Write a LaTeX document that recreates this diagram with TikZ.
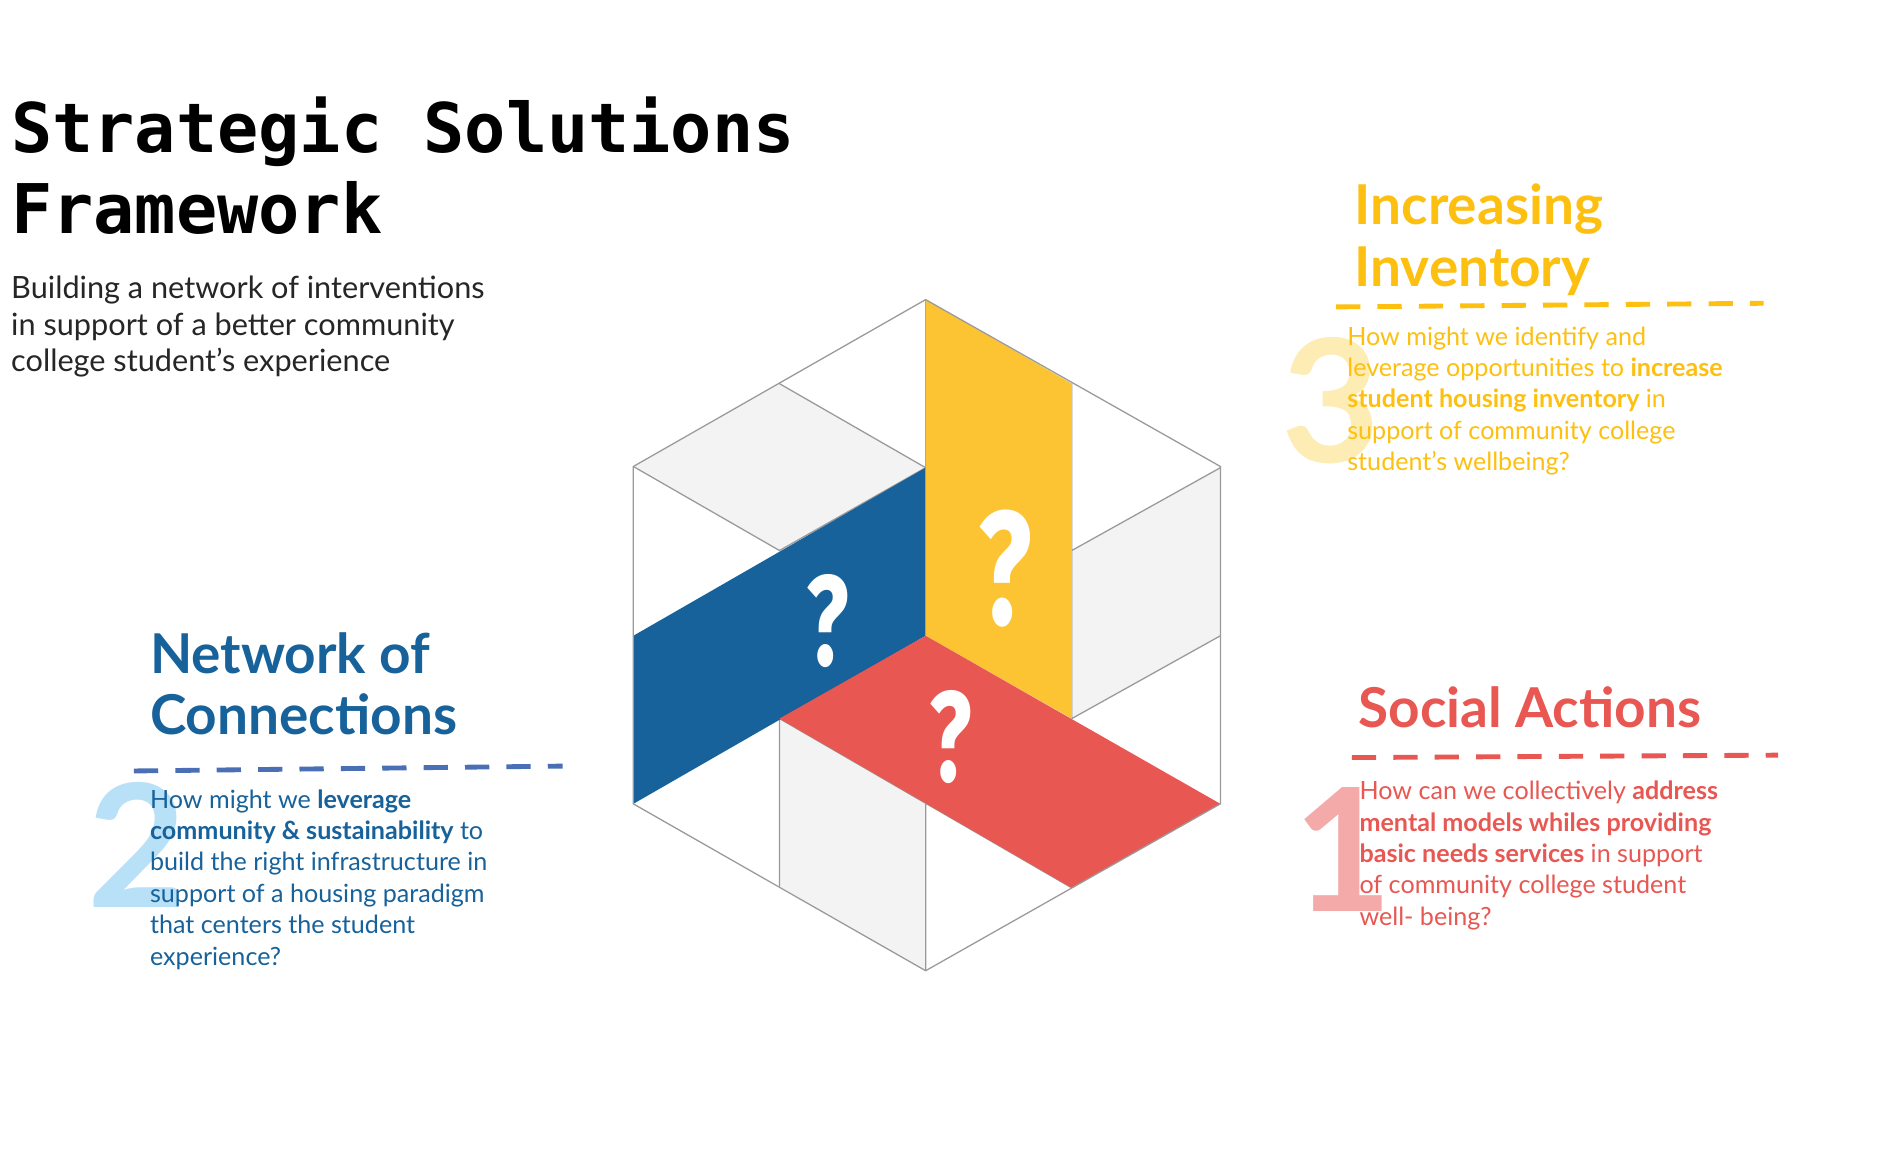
\documentclass[tikz,border=0pt]{standalone}
\usepackage{fontspec}
\setmainfont{Lato}
\newfontfamily\monob{DejaVu Sans Mono}
\newfontfamily\qfont{Fira Sans}
\definecolor{cyel}{HTML}{FCC433}
\definecolor{tyel}{HTML}{FDC010}
\definecolor{cblue}{HTML}{17629A}
\definecolor{dblue}{HTML}{4A6FB5}
\definecolor{cred}{HTML}{E85752}
\definecolor{cgray}{HTML}{F3F3F3}
\definecolor{lgray}{HTML}{9A9A9A}
\definecolor{nblue}{HTML}{B8E0F7}
\definecolor{nyel}{HTML}{FDEDB5}
\definecolor{nred}{HTML}{F5AAAA}
\begin{document}
\begin{tikzpicture}[x=0.03cm,y=-0.03cm,
  grid/.style={draw=lgray,line width=0.9pt},
  dashln/.style={line width=3.4pt,dash pattern=on 17pt off 12pt},
  head/.style={anchor=base west,inner sep=0pt,font=\fontsize{38.5}{43}\selectfont\bfseries,align=left},
  body/.style={anchor=north west,inner sep=0pt,font=\fontsize{17.6}{22}\selectfont,align=left},
  bignum/.style={anchor=base west,inner sep=0pt,font=\fontsize{120}{120}\selectfont\bfseries},
  qm/.style={text=white,inner sep=0pt,font=\qfont\bfseries\fontsize{62}{62}\selectfont,yscale=1.45}]
\useasboundingbox (0,0) rectangle (1560,951.6);
\fill[white] (0,0) rectangle (1560,951.6);
% title
\node[anchor=base west,inner sep=0pt,align=left,font=\monob\bfseries\fontsize{48}{57}\selectfont] (title) at (9,192) {Strategic Solutions\\Framework};
\node[anchor=base west,inner sep=0pt,align=left,font=\fontsize{21.5}{25.5}\selectfont,text=black!85] (sub) at (9,305) {Building a network of interventions\\in support of a better community\\college student's experience};
% hexagon
\fill[white] (760,246)--(1002,383)--(1002,660)--(760,797)--(520,660)--(520,383)--cycle;
\fill[cgray] (520,383)--(640,315)--(760,384)--(640,452)--cycle;
\fill[cgray] (880,452)--(1002,384)--(1002,522)--(880,590)--cycle;
\fill[cgray] (640,590)--(760,660)--(760,797)--(640,728)--cycle;
\draw[grid] (640,315)--(760,384) (520,383)--(640,452)--(760,384) (760,246)--(760,384)
  (880,315)--(880,590) (880,452)--(1002,384) (880,590)--(1002,522)
  (640,590)--(640,728) (760,660)--(760,797) (640,590)--(880,729);
\fill[cblue] (520,522)--(760,384)--(760,522)--(520,660)--cycle;
\fill[cyel] (760,246)--(880,315)--(880,590)--(760,522)--cycle;
\fill[cred] (640,590)--(760,522)--(1002,660)--(880,729)--cycle;
\draw[grid] (760,246)--(1002,383)--(1002,660)--(760,797)--(520,660)--(520,383)--cycle;
\node[qm] (q1) at (680,510) {?};
\node[qm,font=\qfont\bfseries\fontsize{78}{78}\selectfont] (q2) at (825,467) {?};
\node[qm] (q3) at (781,605) {?};
% big numbers
\node[bignum,text=nyel] (n3) at (1052,380) {3};
\node[bignum,text=nblue] (n2) at (72,745) {2};
\node[bignum,text=nred] (n1) at (1062,748) {1};
% yellow block
\node[head,text=tyel] (h3) at (1112,235) {Increasing\\Inventory};
\draw[dashln,draw=tyel] (1097,252) -- (1448,249);
\node[body,text=tyel] (b3) at (1106,268) {How might we identify and\\leverage opportunities to \textbf{increase}\\\textbf{student housing inventory} in\\support of community college\\student's wellbeing?};
% red block
\node[head,text=cred] (h1) at (1115,597) {Social Actions};
\draw[dashln,draw=cred] (1110,622) -- (1460,620);
\node[body,text=cred] (b1) at (1116,641) {How can we collectively \textbf{address}\\\textbf{mental models whiles providing}\\\textbf{basic needs services} in support\\of community college student\\well- being?};
% blue block
\node[head,text=cblue] (h2) at (123,603) {Network of\\Connections};
\draw[dashln,draw=dblue] (110,633) -- (462,629);
\node[body,text=cblue] (b2) at (123,648) {How might we \textbf{leverage}\\\textbf{community \& sustainability} to\\build the right infrastructure in\\support of a housing paradigm\\that centers the student\\experience?};
\end{tikzpicture}
\end{document}
